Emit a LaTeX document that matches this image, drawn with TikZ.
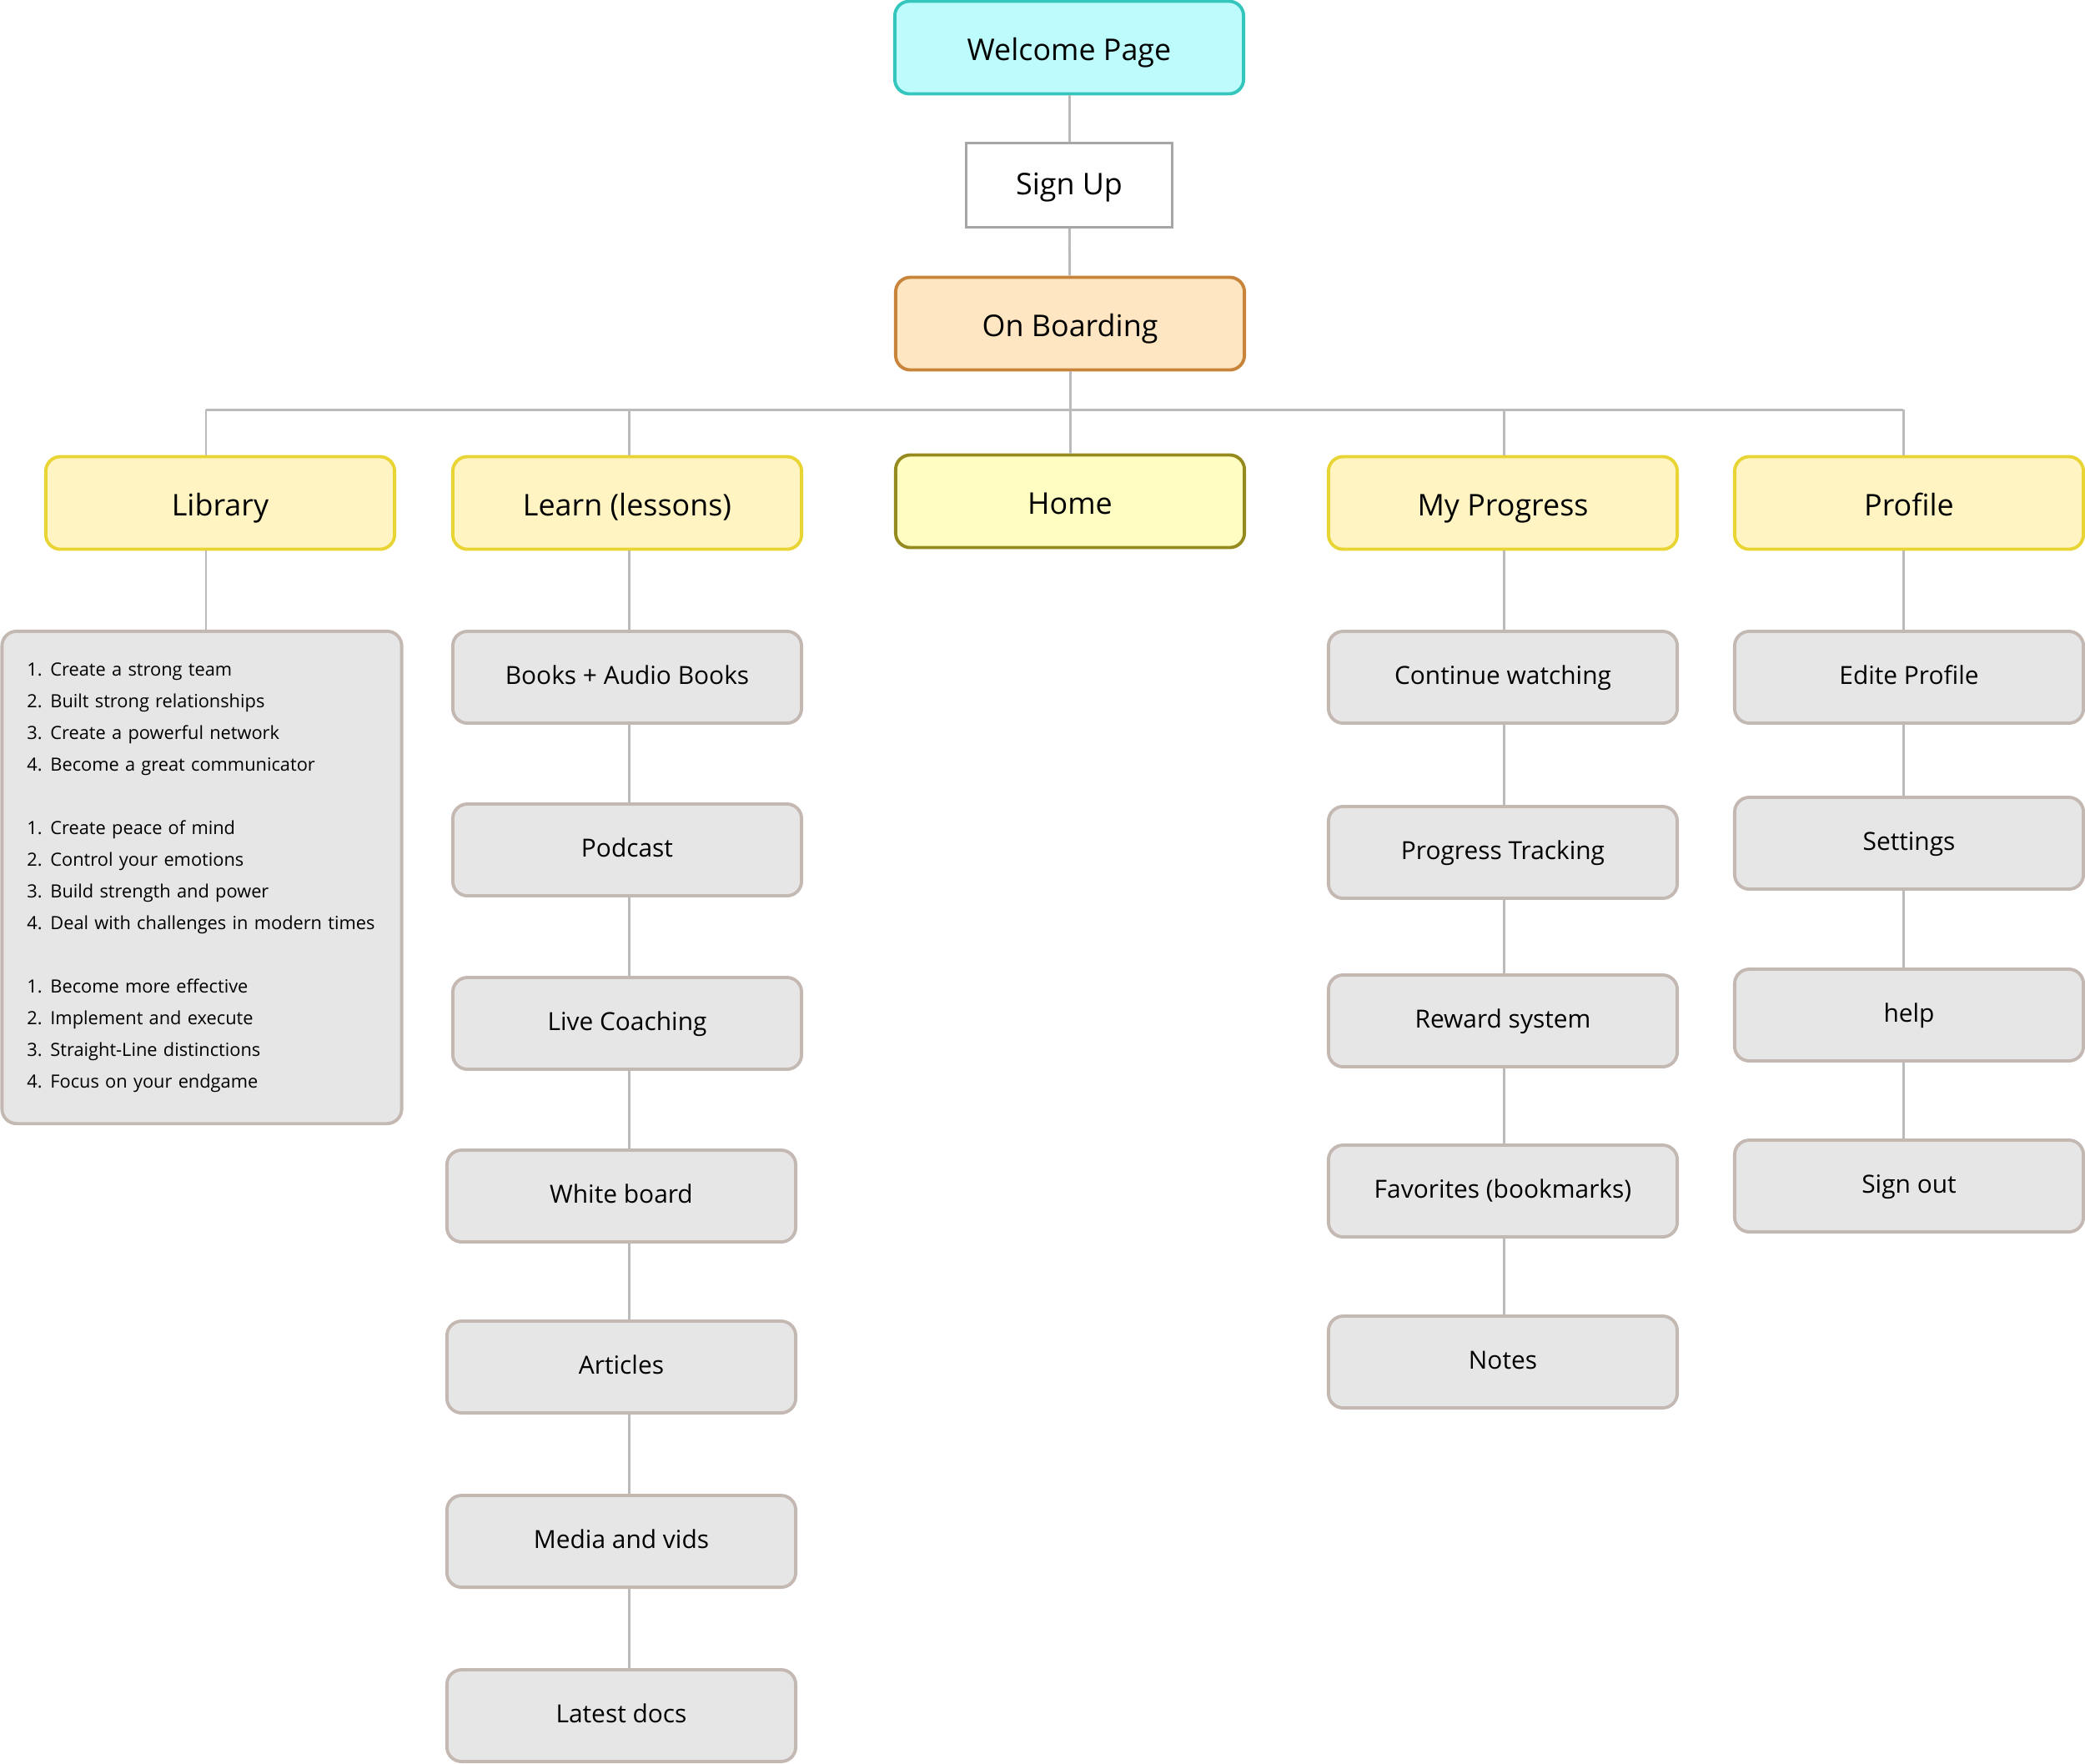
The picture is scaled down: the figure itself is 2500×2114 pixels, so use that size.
\documentclass[tikz,border=0pt]{standalone}
\usepackage{fontspec}
\setmainfont{Open Sans}
\definecolor{welcomefill}{HTML}{BDFBFD}
\definecolor{welcomeline}{HTML}{34C6BC}
\definecolor{onbfill}{HTML}{FFE6C2}
\definecolor{onbline}{HTML}{C8843A}
\definecolor{secfill}{HTML}{FFF4C2}
\definecolor{secline}{HTML}{E8D432}
\definecolor{homefill}{HTML}{FFFDC2}
\definecolor{homeline}{HTML}{958A1E}
\definecolor{itemfill}{HTML}{E6E6E6}
\definecolor{itemline}{HTML}{C4B8B2}
\definecolor{linkcol}{HTML}{BBBBBB}
\definecolor{signline}{HTML}{A6A6A6}
\newcommand{\lnum}[2]{\makebox[0.28cm][l]{#1.}#2}
\begin{document}
\begin{tikzpicture}[x=0.01cm, y=-0.01cm]
        \tikzstyle{pagebox} = [draw, rounded corners=5pt, line width=1.1pt, minimum width=4.18cm, minimum height=1.11cm, align=center, inner sep=1pt, text height=0.714em+1.7pt, text depth=0pt, font=\fontsize{10.2}{12}\selectfont]
        \tikzstyle{secbox} = [pagebox, fill=secfill, draw=secline]
        \tikzstyle{itembox} = [pagebox, fill=itemfill, draw=itemline, minimum height=1.10cm, text height=0.714em, text depth=2.3pt, font=\fontsize{8.5}{10}\selectfont]
        \tikzstyle{link} = [draw=linkcol, line width=0.85pt]
        \useasboundingbox (0,0) rectangle (2500,2114);
        % top of the flow
        \node[pagebox, fill=welcomefill, draw=welcomeline] (welcome) at (1282, 57) {Welcome Page};
        \node[pagebox, fill=white, draw=signline, rounded corners=0pt, line width=0.85pt, minimum width=2.47cm, minimum height=1.01cm, text height=0.714em, text depth=0.6pt] (signup) at (1282, 222) {Sign Up};
        \node[pagebox, fill=onbfill, draw=onbline] (onboard) at (1283, 388) {On Boarding};
        % sections
        \node[secbox] (lib) at (264, 603) {Library};
        \node[secbox] (learn) at (752, 603) {Learn (lessons)};
        \node[pagebox, fill=homefill, draw=homeline] (home) at (1283, 601) {Home};
        \node[secbox] (prog) at (1802, 603) {My Progress};
        \node[secbox] (prof) at (2289, 603) {Profile};
        \coordinate (blib) at (247, 491);
        \coordinate (blearn) at (754, 491);
        \coordinate (bprog) at (1803, 491);
        \coordinate (bprof) at (2282, 491);
        % library topics
        \node[draw=itemline, fill=itemfill, rounded corners=5pt, line width=1.1pt, minimum width=4.79cm, minimum height=5.90cm, text width=4.19cm, align=left, inner sep=0pt, font=\fontsize{6.2}{10.8}\selectfont] (topics) at (242, 1052) {%
          \lnum{1}{Create a strong team}\\
          \lnum{2}{Built strong relationships}\\
          \lnum{3}{Create a powerful network}\\
          \lnum{4}{Become a great communicator}\\[10.8pt]
          \lnum{1}{Create peace of mind}\\
          \lnum{2}{Control your emotions}\\
          \lnum{3}{Build strength and power}\\
          \lnum{4}{Deal with challenges in modern times}\\[10.8pt]
          \lnum{1}{Become more effective}\\
          \lnum{2}{Implement and execute}\\
          \lnum{3}{Straight-Line distinctions}\\
          \lnum{4}{Focus on your endgame}};
        % lessons
        \node[itembox] (books) at (752, 812) {Books + Audio Books};
        \node[itembox] (podcast) at (752, 1019) {Podcast};
        \node[itembox] (coach) at (752, 1227) {Live Coaching};
        \node[itembox] (board) at (745, 1434) {White board};
        \node[itembox] (articles) at (745, 1639) {Articles};
        \node[itembox] (media) at (745, 1848) {Media and vids};
        \node[itembox] (docs) at (745, 2057) {Latest docs};
        % progress
        \node[itembox] (cont) at (1802, 812) {Continue watching};
        \node[itembox] (track) at (1802, 1022) {Progress Tracking};
        \node[itembox] (reward) at (1802, 1224) {Reward system};
        \node[itembox] (fav) at (1802, 1428) {Favorites (bookmarks)};
        \node[itembox] (notes) at (1802, 1633) {Notes};
        % profile
        \node[itembox] (edit) at (2289, 812) {Edite Profile};
        \node[itembox] (settings) at (2289, 1011) {Settings};
        \node[itembox] (help) at (2289, 1217) {help};
        \node[itembox] (signout) at (2289, 1422) {Sign out};
        % connectors
        \draw[link] (welcome) -- (signup);
        \draw[link] (signup) -- (onboard);
        \draw[link] (onboard) -- (home);
        \draw[link] (blib) -- (bprof);
        \draw[link] (blib) -- (lib.north -| blib);
        \draw[link] (blearn) -- (learn.north -| blearn);
        \draw[link] (bprog) -- (prog.north -| bprog);
        \draw[link] (bprof) -- (prof.north -| bprof);
        \draw[link] (lib.south -| blib) -- (topics.north -| blib);
        \foreach \a/\b in {learn/books, books/podcast, podcast/coach, coach/board, board/articles, articles/media, media/docs}
          \draw[link] (\a.south -| blearn) -- (\b.north -| blearn);
        \foreach \a/\b in {prog/cont, cont/track, track/reward, reward/fav, fav/notes}
          \draw[link] (\a.south -| bprog) -- (\b.north -| bprog);
        \foreach \a/\b in {prof/edit, edit/settings, settings/help, help/signout}
          \draw[link] (\a.south -| bprof) -- (\b.north -| bprof);
\end{tikzpicture}
\end{document}
